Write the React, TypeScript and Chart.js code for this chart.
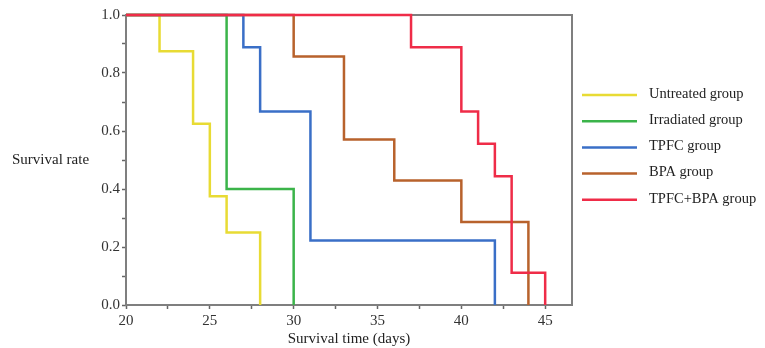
import React, { useEffect, useRef } from "react";
import { Chart, registerables } from "chart.js";

Chart.register(...registerables);

const groupLabels = ["Untreated group", "Irradiated group", "TPFC group", "BPA group", "TPFC+BPA group"];
const groupColors = ["#e8db34", "#3bb44a", "#3a6fc7", "#b8622c", "#ef2c48"];

const untreatedTimes = [20, 22, 24, 25, 26, 28];
const untreatedSurv = [1, 0.875, 0.625, 0.375, 0.25, 0];
const irradiatedTimes = [20, 26, 30];
const irradiatedSurv = [1, 0.4, 0];
const tpfcTimes = [20, 27, 28, 31, 42];
const tpfcSurv = [1, 0.889, 0.667, 0.222, 0];
const bpaTimes = [20, 30, 33, 36, 40, 44];
const bpaSurv = [1, 0.857, 0.571, 0.429, 0.286, 0];
const comboTimes = [20, 37, 40, 41, 42, 43, 45];
const comboSurv = [1, 0.889, 0.667, 0.556, 0.444, 0.111, 0];

const xTickValues = [20, 25, 30, 35, 40, 45];
const yTickValues = [0, 0.2, 0.4, 0.6, 0.8, 1.0];

const xTitle = "Survival time (days)";
const yTitle = "Survival rate";

const FONT = "'Liberation Serif', 'Times New Roman', serif";

export default function App() {
  const ref = useRef<HTMLCanvasElement | null>(null);

  useEffect(() => {
    document.body.style.margin = "0";
    const canvas = ref.current;
    if (!canvas) return;

    const series = [
      [untreatedTimes, untreatedSurv],
      [irradiatedTimes, irradiatedSurv],
      [tpfcTimes, tpfcSurv],
      [bpaTimes, bpaSurv],
      [comboTimes, comboSurv],
    ];

    const datasets = series.map(([t, s], i) => ({
      label: groupLabels[i],
      data: t.map((x, j) => ({ x, y: s[j] })),
      borderColor: groupColors[i],
      backgroundColor: groupColors[i],
      borderWidth: 2.5,
      pointRadius: 0,
      stepped: "before" as const,
      fill: false,
      clip: 4,
      order: series.length - i,
    }));

    const decor = {
      id: "decor",
      beforeDatasetsDraw(chart: any) {
        const { ctx, chartArea } = chart;
        ctx.save();
        ctx.strokeStyle = "#7f7f7f";
        ctx.lineWidth = 2;
        ctx.strokeRect(chartArea.left, chartArea.top, chartArea.right - chartArea.left, chartArea.bottom - chartArea.top);
        ctx.restore();
      },
      afterDraw(chart: any) {
        const { ctx, chartArea } = chart;
        ctx.save();
        ctx.fillStyle = "#222";
        ctx.font = `15px ${FONT}`;
        ctx.textBaseline = "middle";
        ctx.textAlign = "left";
        ctx.fillText(yTitle, 12, 160);
        ctx.textAlign = "center";
        ctx.fillText(xTitle, (chartArea.left + chartArea.right) / 2, 339);

        // legend
        const lx0 = 582;
        const lx1 = 637;
        const ly0 = 95;
        const dy = 26.2;
        ctx.textAlign = "left";
        ctx.font = `14.5px ${FONT}`;
        groupLabels.forEach((lab, i) => {
          const y = ly0 + i * dy;
          ctx.strokeStyle = groupColors[i];
          ctx.lineWidth = 2.5;
          ctx.beginPath();
          ctx.moveTo(lx0, y);
          ctx.lineTo(lx1, y);
          ctx.stroke();
          ctx.fillStyle = "#222";
          ctx.fillText(lab, 649, y - 1);
        });
        ctx.restore();
      },
    };

    const chart = new Chart(canvas, {
      type: "line",
      data: { datasets },
      options: {
        animation: false,
        responsive: false,
        devicePixelRatio: 1,
        layout: { padding: { left: 0, right: 193, top: 15, bottom: 0 } },
        plugins: { legend: { display: false }, tooltip: { enabled: false } },
        scales: {
          x: {
            type: "linear",
            min: 20,
            max: 46.6,
            afterFit: (scale: any) => {
              scale.height = 43;
            },
            afterBuildTicks: (scale: any) => {
              const vals: number[] = [];
              for (let v = 20; v <= 45.01; v += 2.5) vals.push(v);
              scale.ticks = vals.map((v) => ({ value: v }));
            },
            ticks: {
              autoSkip: false,
              maxRotation: 0,
              padding: 3,
              color: "#333",
              font: { family: FONT, size: 15 },
              callback: (v: any) => (xTickValues.includes(Number(v)) ? String(v) : ""),
            },
            grid: {
              drawOnChartArea: false,
              drawTicks: true,
              tickLength: 4,
              tickColor: "#666",
              tickWidth: 1.5,
            },
            border: { display: false },
          },
          y: {
            type: "linear",
            min: 0,
            max: 1,
            afterFit: (scale: any) => {
              scale.width = 126;
            },
            afterBuildTicks: (scale: any) => {
              const vals: number[] = [];
              for (let k = 0; k <= 10; k++) vals.push(k / 10);
              scale.ticks = vals.map((v) => ({ value: v }));
            },
            ticks: {
              autoSkip: false,
              padding: 2,
              color: "#333",
              font: { family: FONT, size: 15 },
              callback: (v: any) => {
                const n = Number(v);
                const hit = yTickValues.find((t) => Math.abs(t - n) < 1e-6);
                return hit !== undefined ? hit.toFixed(1) : "";
              },
            },
            grid: {
              drawOnChartArea: false,
              drawTicks: true,
              tickLength: 4,
              tickColor: "#666",
              tickWidth: 1.5,
            },
            border: { display: false },
          },
        },
      },
      plugins: [decor],
    });

    return () => chart.destroy();
  }, []);

  return (
    <div style={{ width: 765, height: 348 }}>
      <canvas ref={ref} width={765} height={348} style={{ display: "block", width: 765, height: 348 }} />
    </div>
  );
}
